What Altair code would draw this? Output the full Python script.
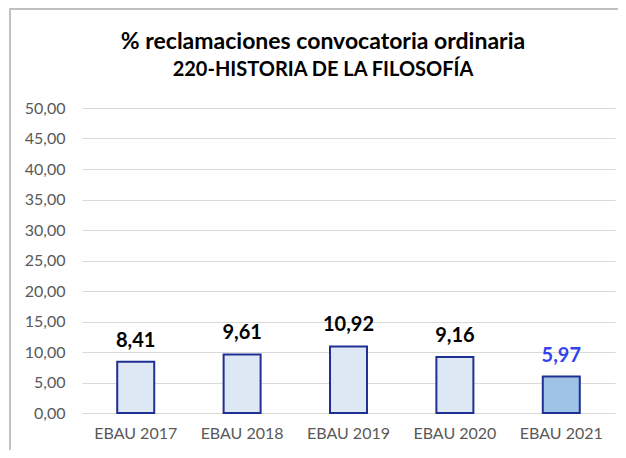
import altair as alt
import pandas as pd

categories = ["EBAU 2017", "EBAU 2018", "EBAU 2019", "EBAU 2020", "EBAU 2021"]
values = [8.41, 9.61, 10.92, 9.16, 5.97]
highlight = [False, False, False, False, True]
title_lines = ["% reclamaciones convocatoria ordinaria", "220-HISTORIA DE LA FILOSOFÍA"]
y_ticks = [0, 5, 10, 15, 20, 25, 30, 35, 40, 45, 50]

df = pd.DataFrame({
    "cat": categories,
    "val": values,
    "hl": ["y" if h else "n" for h in highlight],
    "lbl": [f"{v:.2f}".replace(".", ",") for v in values],
})
title_df = pd.DataFrame({"t": title_lines, "i": [0, 1]})

x_enc = alt.X("cat:N", sort=categories, title=None,
              axis=alt.Axis(labelAngle=0, labelFontSize=16, labelColor="#595959",
                            labelFont="Lato", labelPadding=12, ticks=False, domain=False,
                            grid=False),
              scale=alt.Scale(paddingInner=0.65, paddingOuter=0.33))
y_enc = alt.Y("val:Q", title=None,
              scale=alt.Scale(domain=[0, 50]),
              axis=alt.Axis(values=y_ticks,
                            labelExpr="replace(format(datum.value, '.2f'), '.', ',')",
                            labelFontSize=16, labelColor="#595959", labelFont="Lato",
                            labelPadding=17, ticks=False, domain=False, labelOverlap=False,
                            gridColor="#d9d9d9", gridWidth=1))

bars = alt.Chart(df).mark_bar(size=37, stroke="#1f3092", strokeWidth=2).encode(
    x=x_enc,
    y=y_enc,
    fill=alt.Fill("hl:N", scale=alt.Scale(domain=["n", "y"], range=["#dee8f5", "#9fc3e7"]),
                  legend=None),
)

labels = alt.Chart(df).mark_text(baseline="bottom", dy=-11, fontSize=20, fontWeight="bold",
                                 font="Lato").encode(
    x=x_enc,
    y=y_enc,
    text="lbl:N",
    color=alt.Color("hl:N", scale=alt.Scale(domain=["n", "y"], range=["#000000", "#3344ee"]),
                    legend=None),
)

title1 = alt.Chart(title_df).transform_filter("datum.i == 0").mark_text(
    fontSize=23, fontWeight="bold", font="Lato", color="#000000", baseline="middle",
    align="center").encode(x=alt.value(241), y=alt.value(-66), text="t:N")
title2 = alt.Chart(title_df).transform_filter("datum.i == 1").mark_text(
    fontSize=20, fontWeight="bold", font="Lato", color="#000000", baseline="middle",
    align="center").encode(x=alt.value(241), y=alt.value(-38), text="t:N")

frame_top = alt.Chart(df).mark_rule(color="#c0c0c0", strokeWidth=2).encode(
    x=alt.value(-73), x2=alt.value(540), y=alt.value(-99), y2=alt.value(-99))
frame_left = alt.Chart(df).mark_rule(color="#c0c0c0", strokeWidth=2).encode(
    x=alt.value(-72), x2=alt.value(-72), y=alt.value(-99), y2=alt.value(345))

chart = alt.layer(frame_top, frame_left, bars, labels, title1, title2).properties(
    width=533, height=305,
    padding={"left": 74, "top": 100, "right": 3, "bottom": 37},
    autosize=alt.AutoSizeParams(type="none"),
    background="white",
).configure_view(strokeWidth=0, stroke="transparent")

chart.save("out.html", embed_options={"renderer": "svg", "actions": False})
